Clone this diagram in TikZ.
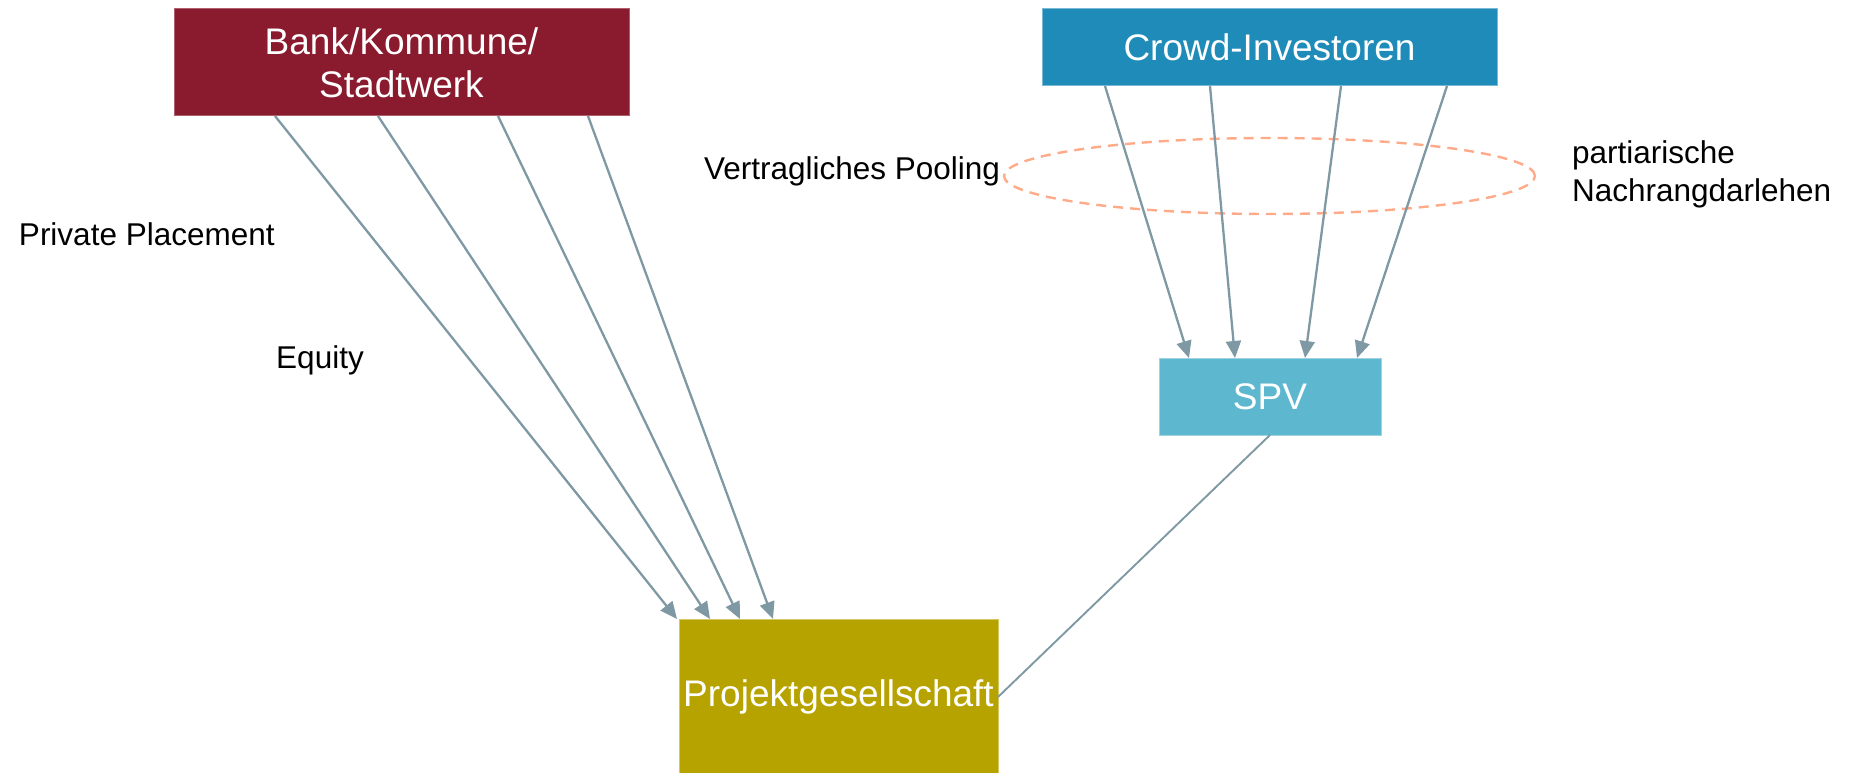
\documentclass[tikz,border=0pt]{standalone}
\usepackage{fontspec}
\setmainfont{Liberation Sans}
\usetikzlibrary{arrows.meta,shapes.geometric}
\definecolor{bankred}{HTML}{8A1B2E}
\definecolor{crowdblue}{HTML}{1F8BB8}
\definecolor{spvblue}{HTML}{5DB8CF}
\definecolor{projgold}{HTML}{B7A300}
\definecolor{arrgray}{HTML}{7F99A4}
\definecolor{poolorange}{HTML}{FFAA88}
\tikzset{
  box/.style={rectangle, inner sep=0pt, outer sep=0pt, text=white, align=center,
    font=\fontsize{37}{43}\selectfont, line width=1pt},
  lbl/.style={inner sep=0pt, outer sep=0pt, text=black, align=left,
    font=\fontsize{31.5}{38}\selectfont},
  arr/.style={draw=arrgray, line width=2.3pt, -{Triangle[length=17pt,width=15pt]}},
  conn/.style={draw=arrgray, line width=1.9pt},
}
\begin{document}
\begin{tikzpicture}[x=1pt,y=-1pt]
\useasboundingbox (0,0) rectangle (1856,773);
\node[box, fill=bankred, draw=bankred!70!white, minimum width=455pt, minimum height=107pt] (bank) at (401.5,62.5) {Bank/Kommune/\\Stadtwerk};
\node[box, fill=crowdblue, draw=crowdblue!60!white, minimum width=455pt, minimum height=77pt] (crowd) at (1269.5,47.5) {Crowd-Investoren};
\node[box, fill=spvblue, draw=spvblue!60!white, minimum width=222pt, minimum height=77pt] (spv) at (1270,396.5) {SPV};
\node[box, fill=projgold, draw=projgold!60!white, minimum width=319pt, minimum height=156pt] (proj) at (838.5,697) {Projektgesellschaft};
\node[ellipse, draw=poolorange, line width=2.4pt, dash pattern=on 10pt off 7pt, minimum width=531pt, minimum height=76pt, inner sep=0pt] (pool) at (1269.5,176) {};
\node[lbl, anchor=west] (pp) at (19,234) {Private Placement};
\node[lbl] (eq) at (320,360) {Equity};
\node[lbl, anchor=east] (vp) at (1000,171) {Vertragliches Pooling};
\node[lbl, anchor=west] (pn) at (1572,174) {partiarische\\Nachrangdarlehen};
\draw[arr] ([xshift=101pt]bank.south west) -- ([xshift=-2pt]proj.north west);
\draw[arr] ([xshift=204pt]bank.south west) -- ([xshift=31pt]proj.north west);
\draw[arr] ([xshift=324pt]bank.south west) -- ([xshift=61pt]proj.north west);
\draw[arr] ([xshift=414pt]bank.south west) -- ([xshift=94pt]proj.north west);
\draw[arr] ([xshift=63pt]crowd.south west) -- ([xshift=30pt]spv.north west);
\draw[arr] ([xshift=168pt]crowd.south west) -- ([xshift=76pt]spv.north west);
\draw[arr] ([xshift=299pt]crowd.south west) -- ([xshift=146pt]spv.north west);
\draw[arr] ([xshift=405pt]crowd.south west) -- ([xshift=198pt]spv.north west);
\draw[conn] (spv.south) -- (proj.east);
\end{tikzpicture}
\end{document}
